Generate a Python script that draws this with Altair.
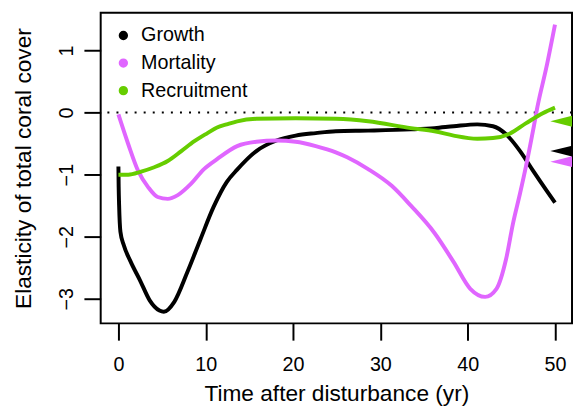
import altair as alt
import pandas as pd

# ---- data ----
series_names = ["Growth", "Mortality", "Recruitment"]
series_colors = ["#000000", "#E066FF", "#66CD00"]

time_growth = [0, 0.03, 0.08, 0.23, 0.6, 1.36, 2.5, 3.6, 4.7, 5.2, 6.4, 7.9, 9.4,
               10.9, 12.4, 13.6, 15.8, 18.1, 20.3, 22.6, 24.9, 28.6, 33.5, 36.2,
               38.4, 41.1, 42.9, 44.4, 46.0, 47.5, 49.0, 50.0]
growth = [-0.87, -1.2, -1.49, -1.92, -2.13, -2.39, -2.71, -3.03, -3.19, -3.21, -3.05,
          -2.57, -2.04, -1.52, -1.12, -0.92, -0.62, -0.45, -0.37, -0.33, -0.30, -0.29,
          -0.27, -0.25, -0.22, -0.19, -0.22, -0.35, -0.62, -0.94, -1.25, -1.45]

time_mortality = [0, 1.13, 2.26, 3.4, 4.5, 5.65, 6.8, 8.3, 9.8, 11.3, 13.6, 15.8, 18.1,
                  20.3, 22.6, 24.9, 26.2, 28.6, 31.3, 33.5, 36.2, 38.4, 40.3, 42.0,
                  43.3, 44.4, 45.2, 46.0, 46.7, 47.5, 48.0, 49.0, 50.0]
mortality = [-0.03, -0.51, -0.94, -1.2, -1.36, -1.39, -1.33, -1.15, -0.91, -0.75, -0.54,
             -0.47, -0.45, -0.47, -0.54, -0.64, -0.72, -0.91, -1.18, -1.5, -1.94, -2.41,
             -2.84, -2.97, -2.84, -2.36, -1.78, -1.3, -0.85, -0.28, 0.1, 0.72, 1.42]

time_recruitment = [0, 1.13, 2.6, 4.1, 5.65, 7.2, 8.7, 10.2, 11.3, 12.4, 13.6, 15.8,
                    20.3, 24.9, 28.6, 33.5, 36.2, 38.4, 41.1, 42.9, 44.8, 46.7, 48.6, 50.0]
recruitment = [-1.0, -1.0, -0.95, -0.88, -0.78, -0.62, -0.46, -0.33, -0.24, -0.19, -0.14,
               -0.1, -0.09, -0.1, -0.14, -0.25, -0.3, -0.37, -0.42, -0.41, -0.34, -0.17,
               -0.01, 0.08]

# equilibrium markers on the right edge
equilibrium = [-0.62, -0.79, -0.14]  # Growth, Mortality, Recruitment

x_ticks = [0, 10, 20, 30, 40, 50]
y_ticks = [-3, -2, -1, 0, 1]

# ---- tables ----
rows = []
for name, tt, vv in zip(series_names,
                        [time_growth, time_mortality, time_recruitment],
                        [growth, mortality, recruitment]):
    for t, v in zip(tt, vv):
        rows.append({"series": name, "time": t, "value": v})
df = pd.DataFrame(rows)
eq_df = pd.DataFrame({"series": series_names, "value": equilibrium})

FONT = "Liberation Sans"
W, H = 478, 315
xscale = alt.Scale(domain=[-2.03, 51.95], nice=False, zero=False)
yscale = alt.Scale(domain=[-3.397, 1.609], nice=False, zero=False)
cscale = alt.Scale(domain=series_names, range=series_colors)

zero_line = alt.Chart(pd.DataFrame({"v": [0]})).mark_rule(
    color="black", strokeWidth=2, strokeDash=[2, 7.2]
).encode(y=alt.Y("v:Q", scale=yscale))

lines = alt.Chart(df).mark_line(strokeWidth=4, interpolate="monotone").encode(
    x=alt.X("time:Q", scale=xscale,
            axis=alt.Axis(values=x_ticks, title="Time after disturbance (yr)",
                          labelFontSize=20, titleFontSize=23, tickSize=17,
                          tickWidth=2, tickColor="black", labelColor="black",
                          titleColor="black", labelPadding=15, titlePadding=8,
                          domain=False, grid=False, labelFont=FONT, titleFont=FONT,
                          titleFontWeight="normal")),
    y=alt.Y("value:Q", scale=yscale,
            axis=alt.Axis(values=y_ticks, title="Elasticity of total coral cover",
                          labelFontSize=20, titleFontSize=23, tickSize=17,
                          tickWidth=2, tickColor="black", labelColor="black",
                          titleColor="black", labelAngle=270, labelAlign="center",
                          labelBaseline="bottom", labelPadding=8, titlePadding=21,
                          domain=False, grid=False, labelFont=FONT, titleFont=FONT,
                          titleFontWeight="normal", format="d")),
    color=alt.Color("series:N", scale=cscale,
                    legend=alt.Legend(title=None, orient="none", legendX=13, legendY=13,
                                      symbolType="circle", symbolSize=20,
                                      symbolStrokeWidth=5, labelFontSize=20,
                                      labelFont=FONT, labelColor="black",
                                      rowPadding=2, labelOffset=8, padding=0)),
    detail="series:N",
)

markers = alt.Chart(eq_df).mark_point(
    shape="M -2 0 L 0 -0.5 L 0 0.5 Z", size=484, filled=True, opacity=1, strokeWidth=0
).encode(
    x=alt.value(W),
    y=alt.Y("value:Q", scale=yscale),
    fill=alt.Color("series:N", scale=cscale, legend=None),
)

chart = alt.layer(zero_line, lines, markers).properties(
    width=W, height=H, background="white",
    padding={"left": 94, "top": 2, "right": 1, "bottom": 85},
    autosize=alt.AutoSizeParams(type="none"),
).configure_view(stroke="black", strokeWidth=2)

chart.save("out.html", embed_options={"renderer": "svg", "actions": False})
